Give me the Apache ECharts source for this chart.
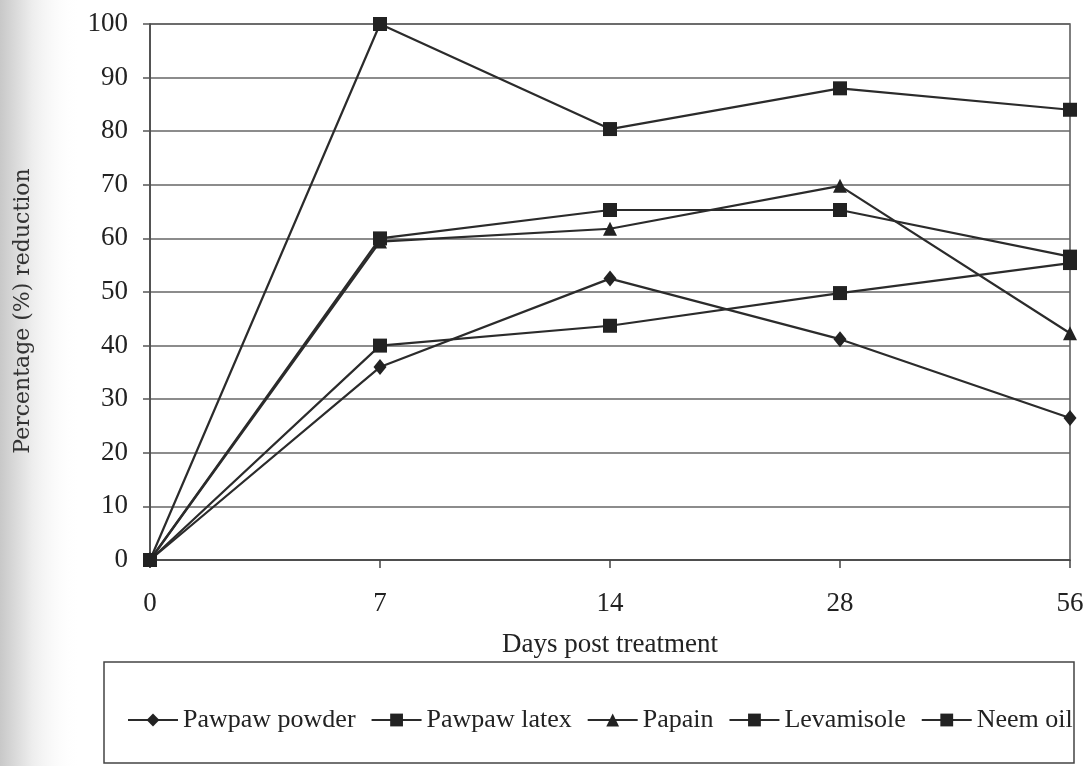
<!DOCTYPE html>
<html>
<head>
<meta charset="utf-8">
<script src="https://cdn.jsdelivr.net/npm/echarts@6/dist/echarts.min.js"></script>
<style>html,body{margin:0;padding:0;background:#fff;}#c{width:1087px;height:766px;}</style>
</head>
<body>
<div id="c"></div>
<script>
const days = ['0', '7', '14', '28', '56'];
const pawpawPowder = [0, 36, 52.5, 41.2, 26.5];
const pawpawLatex = [0, 60, 65.3, 65.3, 56.6];
const papain = [0, 59.4, 61.8, 69.8, 42.3];
const levamisole = [0, 100, 80.4, 88, 84];
const neemOil = [0, 40, 43.7, 49.8, 55.4];
const yTicks = { min: 0, max: 100, interval: 10 };

const serif = 'Liberation Serif';
const lineColor = '#2b2b2b';

function mk(name, data, symbol, size) {
  return {
    name, type: 'line', data, symbol, symbolSize: size,
    lineStyle: { color: lineColor, width: 2.2 },
    itemStyle: { color: '#222', borderWidth: 0 },
    emphasis: { disabled: true },
    animation: false
  };
}

const chart = echarts.init(document.getElementById('c'), null, { renderer: 'canvas' });
chart.setOption({
  backgroundColor: '#fff',
  animation: false,
  graphic: [
    { type: 'rect', z: -10, silent: true, shape: { x: 0, y: 0, width: 80, height: 766 },
      style: { fill: new echarts.graphic.LinearGradient(0, 0, 1, 0, [
        { offset: 0, color: '#c8c8c8' }, { offset: 0.4, color: '#ededed' }, { offset: 1, color: 'rgba(255,255,255,0)' }]) } },
    { type: 'rect', z: 0, silent: true, shape: { x: 104, y: 662, width: 970, height: 101 },
      style: { fill: 'none', stroke: '#444', lineWidth: 1.5 } }
  ],
  grid: { left: 150, right: 17, top: 24, bottom: 206, show: true, borderColor: '#555', borderWidth: 1.5 },
  legend: {
    left: 122, top: 702, itemWidth: 50, itemHeight: 16, itemGap: 15,
    textStyle: { fontFamily: serif, fontSize: 26, color: '#222' },
    data: ['Pawpaw powder', 'Pawpaw latex', 'Papain', 'Levamisole', 'Neem oil']
  },
  xAxis: {
    type: 'category', data: days, boundaryGap: false,
    name: 'Days post treatment', nameLocation: 'middle', nameGap: 71,
    nameTextStyle: { fontFamily: serif, fontSize: 27, color: '#222' },
    axisLine: { lineStyle: { color: '#444', width: 1.5 } },
    axisTick: { show: true, length: 8, lineStyle: { color: '#444', width: 1.5 } },
    axisLabel: { fontFamily: serif, fontSize: 27, color: '#222', margin: 30 },
    splitLine: { show: false }
  },
  yAxis: {
    type: 'value', min: yTicks.min, max: yTicks.max, interval: yTicks.interval,
    name: 'Percentage (%) reduction', nameLocation: 'middle', nameGap: 116,
    nameTextStyle: { fontFamily: 'DejaVu Serif', fontSize: 22, color: '#333', padding: [0, 38, 0, 0] },
    axisLine: { show: true, lineStyle: { color: '#444', width: 1.5 } },
    axisTick: { show: true, length: 7, lineStyle: { color: '#555', width: 1.5 } },
    axisLabel: { fontFamily: serif, fontSize: 27, color: '#222', margin: 22 },
    splitLine: { show: true, lineStyle: { color: '#666', width: 1.5 } }
  },
  series: [
    mk('Pawpaw powder', pawpawPowder, 'diamond', [13, 16]),
    mk('Pawpaw latex', pawpawLatex, 'rect', 14),
    mk('Papain', papain, 'triangle', 14),
    mk('Levamisole', levamisole, 'rect', 14),
    mk('Neem oil', neemOil, 'rect', 14)
  ]
});
</script>
</body>
</html>
